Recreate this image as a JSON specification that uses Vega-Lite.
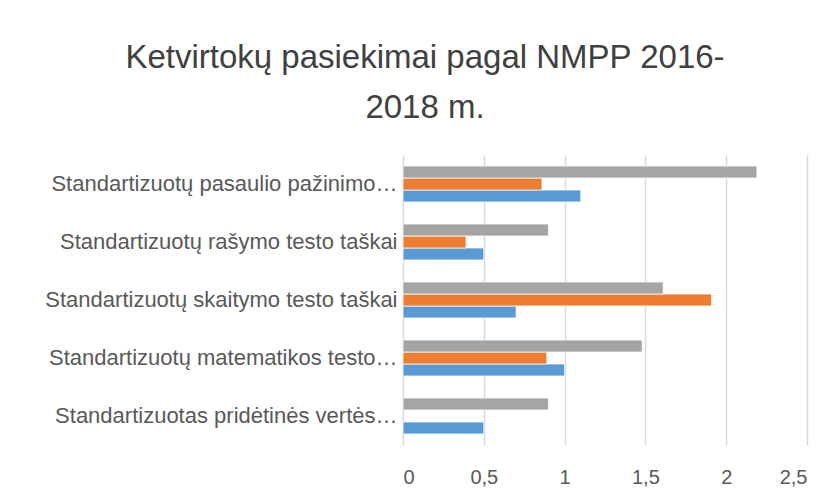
{
  "$schema": "https://vega.github.io/schema/vega-lite/v6.json",
  "autosize": {"type": "none"},
  "width": 404,
  "height": 290,
  "padding": {"left": 403, "top": 155, "right": 30, "bottom": 59},
  "background": "#ffffff",
  "title": {
    "text": ["Ketvirtokų pasiekimai pagal NMPP 2016-", "2018 m."],
    "anchor": "middle",
    "dx": -180,
    "offset": 30,
    "font": "Liberation Sans",
    "fontSize": 33,
    "fontWeight": "normal",
    "color": "#404040",
    "lineHeight": 50
  },
  "data": {
    "values": [
      {"cat": "Standartizuotų pasaulio pažinimo…", "series": "2016", "value": 1.10},
      {"cat": "Standartizuotų pasaulio pažinimo…", "series": "2017", "value": 0.86},
      {"cat": "Standartizuotų pasaulio pažinimo…", "series": "2018", "value": 2.19},
      {"cat": "Standartizuotų rašymo testo taškai", "series": "2016", "value": 0.50},
      {"cat": "Standartizuotų rašymo testo taškai", "series": "2017", "value": 0.39},
      {"cat": "Standartizuotų rašymo testo taškai", "series": "2018", "value": 0.90},
      {"cat": "Standartizuotų skaitymo testo taškai", "series": "2016", "value": 0.70},
      {"cat": "Standartizuotų skaitymo testo taškai", "series": "2017", "value": 1.91},
      {"cat": "Standartizuotų skaitymo testo taškai", "series": "2018", "value": 1.61},
      {"cat": "Standartizuotų matematikos testo…", "series": "2016", "value": 1.00},
      {"cat": "Standartizuotų matematikos testo…", "series": "2017", "value": 0.89},
      {"cat": "Standartizuotų matematikos testo…", "series": "2018", "value": 1.48},
      {"cat": "Standartizuotas pridėtinės vertės…", "series": "2016", "value": 0.50},
      {"cat": "Standartizuotas pridėtinės vertės…", "series": "2018", "value": 0.90}
    ]
  },
  "mark": {"type": "bar", "stroke": "#ffffff", "strokeWidth": 0.75},
  "encoding": {
    "y": {
      "field": "cat",
      "type": "nominal",
      "sort": null,
      "scale": {"paddingInner": 0.38, "paddingOuter": 0.19},
      "axis": {
        "title": null,
        "ticks": false,
        "domain": false,
        "labelFont": "Liberation Sans",
        "labelFontSize": 22,
        "labelColor": "#595959",
        "labelPadding": 6,
        "labelLimit": 400
      }
    },
    "yOffset": {
      "field": "series",
      "type": "nominal",
      "sort": ["2018", "2017", "2016"],
      "scale": {"paddingInner": 0, "paddingOuter": 0}
    },
    "x": {
      "field": "value",
      "type": "quantitative",
      "scale": {"domain": [0, 2.5], "nice": false},
      "axis": {
        "title": null,
        "values": [0, 0.5, 1, 1.5, 2, 2.5],
        "labelExpr": "replace(format(datum.value, '~g'), '.', ',')",
        "ticks": false,
        "domain": false,
        "grid": true,
        "gridColor": "#D9D9D9",
        "gridWidth": 1.5,
        "labelFont": "Liberation Sans",
        "labelFontSize": 20,
        "labelColor": "#595959",
        "labelPadding": 22
      }
    },
    "color": {
      "field": "series",
      "type": "nominal",
      "scale": {"domain": ["2016", "2017", "2018"], "range": ["#5B9BD5", "#ED7D31", "#A5A5A5"]},
      "legend": null
    }
  },
  "config": {"view": {"stroke": null}}
}
